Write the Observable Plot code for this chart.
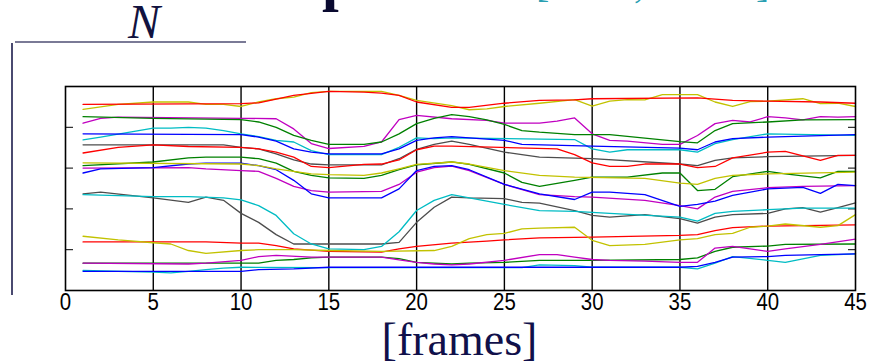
<!DOCTYPE html>
<html>
<head>
<meta charset="utf-8">
<script src="https://cdn.jsdelivr.net/npm/d3@7"></script>
<script src="https://cdn.jsdelivr.net/npm/@observablehq/plot@0.6"></script>
<style>
  html, body { margin: 0; padding: 0; background: #fff; }
  #wrap { position: relative; width: 882px; height: 362px; overflow: hidden; background: #fff; }
  #chart { position: absolute; left: 0; top: 0; }
  .abs { position: absolute; white-space: nowrap; }
  .serif { font-family: "Liberation Serif", "Times New Roman", serif; }
</style>
</head>
<body>
<div id="wrap">
  <div class="abs serif" style="left:322px; top:-51px; font-size:60px; line-height:60px; font-weight:bold; color:#0a0a30;">p</div>
  <div class="abs serif" style="left:536px; top:-36px; font-size:40px; line-height:40px; color:#2a9fb2;">[</div>
  <div class="abs serif" style="left:634px; top:-36px; font-size:40px; line-height:40px; color:#2a9fb2;">,</div>
  <div class="abs serif" style="left:756px; top:-36px; font-size:40px; line-height:40px; color:#2a9fb2;">]</div>
  <div class="abs serif" style="left:128px; top:-2px; font-size:48px; line-height:48px; font-style:italic; color:#12123f;">N</div>
  <div class="abs" style="left:15px; top:41px; width:231px; height:2px; background:#7a7a96;"></div>
  <div class="abs" style="left:11px; top:43px; width:2px; height:252px; background:#4a4a70;"></div>
  <div id="chart"></div>
  <div class="abs serif" style="left:0; width:919px; text-align:center; top:325px; font-size:46px; line-height:30px; color:#10104a;">[frames]</div>
</div>
<script>
// x-axis tick labels (frames)
const xTicks = [0, 5, 10, 15, 20, 25, 30, 35, 40, 45];
const yTicks = [1, 2, 3, 4];

// series: [frame, value] vertices
const red1 = [[1,4.56],[10,4.58],[11,4.60],[13,4.78],[15,4.88],[17,4.86],[18,4.84],[19,4.78],[20,4.62],[22,4.49],[23,4.49],[25,4.59],[27,4.66],[29,4.67],[30,4.70],[36,4.72],[38,4.66],[40,4.64],[43,4.62],[45,4.59]];
const yellow1 = [[1,4.44],[3,4.56],[5,4.62],[7,4.62],[8,4.56],[9,4.56],[10,4.51],[11,4.62],[12,4.70],[13,4.74],[14,4.85],[15,4.88],[18,4.88],[19,4.78],[20,4.66],[22,4.53],[23,4.43],[24,4.45],[25,4.51],[27,4.59],[29,4.68],[30,4.52],[31,4.64],[32,4.68],[33,4.67],[34,4.80],[36,4.80],[37,4.62],[38,4.51],[39,4.63],[40,4.64],[42,4.70],[43,4.58],[44,4.59],[45,4.51]];
const green1 = [[1,4.26],[5,4.22],[10,4.19],[11,4.13],[12,4.00],[13,3.80],[14,3.68],[15,3.58],[17,3.58],[18,3.64],[19,3.84],[20,4.09],[21,4.22],[22,4.31],[23,4.26],[24,4.18],[25,4.07],[26,3.92],[27,3.88],[29,3.82],[31,3.82],[35,3.65],[36,3.62],[37,3.92],[38,4.09],[40,4.13],[42,4.18],[45,4.19]];
const magenta1 = [[1,4.10],[2,4.22],[3,4.25],[10,4.22],[12,4.21],[13,3.96],[14,3.60],[15,3.48],[17,3.53],[18,3.64],[19,4.19],[20,4.29],[22,4.21],[24,4.17],[25,4.10],[27,4.10],[28,4.15],[29,4.23],[30,3.84],[31,3.68],[32,3.66],[34,3.58],[35,3.58],[36,3.80],[37,4.09],[38,4.17],[39,4.13],[40,4.26],[41,4.23],[42,4.18],[43,4.26],[44,4.25],[45,4.26]];
const blue1 = [[1,3.84],[10,3.82],[11,3.76],[12,3.66],[13,3.47],[14,3.39],[15,3.35],[18,3.35],[19,3.47],[20,3.68],[21,3.74],[22,3.77],[23,3.74],[25,3.68],[26,3.58],[30,3.54],[35,3.49],[36,3.45],[37,3.64],[38,3.72],[40,3.76],[45,3.82]];
const cyan1 = [[1,3.69],[2,3.76],[5,3.98],[6,3.98],[7,4.00],[8,3.98],[9,3.92],[10,3.84],[11,3.77],[12,3.68],[13,3.64],[14,3.43],[15,3.33],[18,3.33],[19,3.51],[20,3.74],[21,3.72],[22,3.74],[29,3.70],[30,3.47],[31,3.39],[32,3.45],[35,3.45],[36,3.39],[37,3.60],[38,3.70],[40,3.84],[45,3.80]];
const gray1 = [[1,3.57],[9,3.57],[10,3.51],[11,3.47],[12,3.35],[13,3.20],[14,3.10],[15,3.08],[18,3.08],[19,3.23],[20,3.46],[21,3.58],[22,3.66],[23,3.58],[25,3.39],[26,3.33],[27,3.27],[30,3.23],[35,3.10],[36,3.06],[37,3.19],[38,3.25],[40,3.28],[45,3.31]];
const red2 = [[1,3.37],[3,3.51],[5,3.57],[7,3.53],[10,3.51],[11,3.47],[12,3.39],[13,3.27],[14,3.04],[15,3.01],[17,3.09],[18,3.10],[19,3.20],[20,3.45],[21,3.54],[22,3.54],[28,3.47],[29,3.33],[30,3.13],[31,3.04],[32,3.04],[33,3.10],[35,3.10],[36,3.01],[37,3.04],[38,3.25],[40,3.39],[41,3.41],[43,3.19],[44,3.31],[45,3.31]];
const yellow2 = [[1,3.13],[10,3.10],[11,3.06],[12,2.98],[13,2.92],[14,2.86],[15,2.84],[17,2.82],[18,2.88],[19,2.98],[20,3.09],[22,3.15],[23,3.10],[25,2.94],[27,2.82],[29,2.78],[33,2.75],[35,2.63],[36,2.60],[37,2.75],[38,2.82],[40,2.86],[45,2.90]];
const green2 = [[1,3.06],[5,3.15],[7,3.25],[8,3.27],[10,3.27],[11,3.23],[12,3.12],[13,2.92],[14,2.82],[15,2.76],[17,2.75],[18,2.82],[19,2.96],[20,3.08],[22,3.15],[23,3.09],[25,2.88],[26,2.65],[27,2.55],[29,2.70],[30,2.78],[32,2.78],[34,2.88],[35,2.88],[36,2.45],[37,2.48],[38,2.79],[40,2.92],[41,2.86],[43,2.76],[44,2.92],[45,2.92]];
const magenta2 = [[1,3.00],[7,3.01],[8,2.98],[10,2.94],[11,2.92],[12,2.75],[13,2.55],[14,2.45],[15,2.41],[18,2.43],[19,2.60],[20,2.90],[21,3.01],[22,3.05],[23,2.94],[25,2.60],[27,2.35],[29,2.30],[30,2.29],[33,2.21],[35,2.08],[36,2.00],[37,2.29],[38,2.43],[40,2.52],[42,2.55],[45,2.57]];
const blue2 = [[1,2.88],[2,2.98],[5,3.01],[7,3.10],[8,3.12],[10,3.12],[11,3.06],[12,2.96],[13,2.70],[14,2.37],[15,2.27],[18,2.27],[19,2.49],[20,2.94],[21,3.04],[22,3.06],[23,2.96],[25,2.60],[27,2.37],[29,2.23],[30,2.41],[31,2.41],[33,2.35],[35,2.06],[36,2.11],[37,2.19],[38,2.33],[40,2.49],[42,2.53],[43,2.38],[44,2.60],[45,2.57]];
const gray2 = [[1,2.37],[2,2.41],[5,2.27],[7,2.16],[8,2.29],[9,2.21],[10,1.89],[11,1.67],[12,1.37],[13,1.14],[18,1.14],[19,1.18],[20,1.67],[21,2.04],[22,2.29],[23,2.27],[25,2.25],[26,2.16],[27,2.14],[29,1.96],[30,1.84],[31,1.80],[33,1.86],[35,1.76],[36,1.65],[37,1.80],[38,1.86],[40,1.89],[41,2.00],[42,2.03],[43,1.92],[44,2.03],[45,2.15]];
const cyan2 = [[1,2.35],[5,2.30],[7,2.30],[9,2.27],[10,2.22],[11,2.08],[12,1.84],[13,1.39],[14,1.14],[15,1.02],[17,1.00],[18,1.08],[19,1.44],[20,1.96],[21,2.21],[22,2.35],[23,2.27],[25,2.11],[27,1.96],[29,1.94],[31,1.89],[35,1.80],[36,1.70],[37,1.89],[38,1.94],[40,1.98],[42,2.02],[45,2.02]];
const yellow3 = [[1,1.33],[3,1.24],[5,1.17],[6,1.14],[7,0.98],[8,0.91],[10,0.98],[11,1.00],[13,1.00],[15,0.98],[18,0.96],[21,0.98],[22,1.08],[23,1.27],[24,1.37],[25,1.40],[26,1.51],[27,1.53],[29,1.55],[30,1.23],[31,1.10],[33,1.13],[35,1.24],[36,1.27],[37,1.37],[38,1.40],[39,1.55],[40,1.58],[41,1.63],[43,1.55],[44,1.59],[45,1.86]];
const red3 = [[1,1.19],[8,1.19],[10,1.16],[11,1.16],[12,1.10],[13,1.02],[15,0.96],[18,0.94],[19,1.02],[20,1.08],[22,1.16],[24,1.21],[25,1.24],[27,1.29],[30,1.31],[35,1.35],[36,1.37],[37,1.47],[38,1.54],[40,1.58],[45,1.61]];
const magenta3 = [[1,0.67],[7,0.65],[8,0.67],[10,0.74],[11,0.83],[12,0.86],[14,0.82],[18,0.82],[19,0.75],[20,0.69],[21,0.65],[22,0.63],[23,0.65],[25,0.74],[27,0.88],[28,0.88],[29,0.82],[30,0.76],[31,0.74],[33,0.72],[35,0.69],[36,0.69],[37,1.04],[38,1.08],[39,1.02],[40,0.96],[41,1.02],[43,1.13],[45,1.26]];
const green3 = [[1,0.67],[11,0.67],[12,0.74],[13,0.76],[14,0.80],[15,0.82],[18,0.82],[19,0.78],[20,0.69],[22,0.65],[23,0.67],[25,0.69],[27,0.74],[30,0.74],[35,0.76],[36,0.80],[37,0.96],[38,1.06],[40,1.09],[41,1.13],[45,1.14]];
const cyan3 = [[1,0.49],[5,0.45],[6,0.43],[7,0.47],[8,0.51],[9,0.55],[10,0.57],[15,0.56],[26,0.56],[27,0.63],[29,0.61],[30,0.57],[35,0.57],[36,0.53],[37,0.67],[38,0.83],[40,0.74],[41,0.69],[43,0.86],[45,0.90]];
const blue3 = [[1,0.47],[10,0.47],[11,0.51],[13,0.53],[15,0.57],[35,0.57],[36,0.59],[37,0.69],[38,0.82],[40,0.83],[41,0.86],[45,0.90]];

const seriesList = [
  ["gray2", gray2, "#4d4d4d"], ["cyan2", cyan2, "#00bcc4"],
  ["gray1", gray1, "#4d4d4d"],
  ["cyan3", cyan3, "#00bcc4"], ["blue3", blue3, "#0000ff"],
  ["green3", green3, "#008000"], ["magenta3", magenta3, "#c000c0"],
  ["red3", red3, "#ff0000"], ["yellow3", yellow3, "#c2c200"],
  ["magenta2", magenta2, "#c000c0"], ["blue2", blue2, "#0000ff"],
  ["green2", green2, "#008000"], ["yellow2", yellow2, "#c2c200"],
  ["red2", red2, "#ff0000"],
  ["cyan1", cyan1, "#00bcc4"], ["blue1", blue1, "#0000ff"],
  ["magenta1", magenta1, "#c000c0"], ["green1", green1, "#008000"],
  ["yellow1", yellow1, "#c2c200"], ["red1", red1, "#ff0000"]
];

const rows = seriesList.flatMap(([name, pts, color]) =>
  pts.map(([f, v]) => ({ s: name, f, v, c: color })));

const chart = Plot.plot({
  width: 882,
  height: 322,
  marginLeft: 65,
  marginRight: 27,
  marginTop: 86,
  marginBottom: 32,
  style: {
    fontFamily: "'Liberation Sans', Arial, sans-serif",
    fontSize: "24px",
    color: "#000",
    background: "transparent",
    overflow: "visible"
  },
  x: { domain: [0, 45], ticks: xTicks, tickSize: 0, tickPadding: 2, label: null },
  y: { domain: [0, 5], ticks: yTicks, tickSize: -8, tickFormat: () => "", label: null, axis: "both" },
  color: { type: "identity" },
  marks: [
    Plot.ruleX(xTicks.slice(1, -1), { stroke: "#000", strokeWidth: 1.4 }),
    Plot.line(rows, { x: "f", y: "v", z: "s", stroke: "c", strokeWidth: 1.3 }),
    Plot.frame({ stroke: "#000", strokeWidth: 1.6 })
  ]
});

document.getElementById("chart").appendChild(chart);

// narrow the x tick labels horizontally like the reference's condensed digits
chart.querySelectorAll('g[aria-label="x-axis tick label"] text').forEach(t => {
  const w = t.getComputedTextLength();
  if (w > 0) {
    t.setAttribute("textLength", (w * 0.85).toFixed(2));
    t.setAttribute("lengthAdjust", "spacingAndGlyphs");
  }
});
</script>
</body>
</html>
